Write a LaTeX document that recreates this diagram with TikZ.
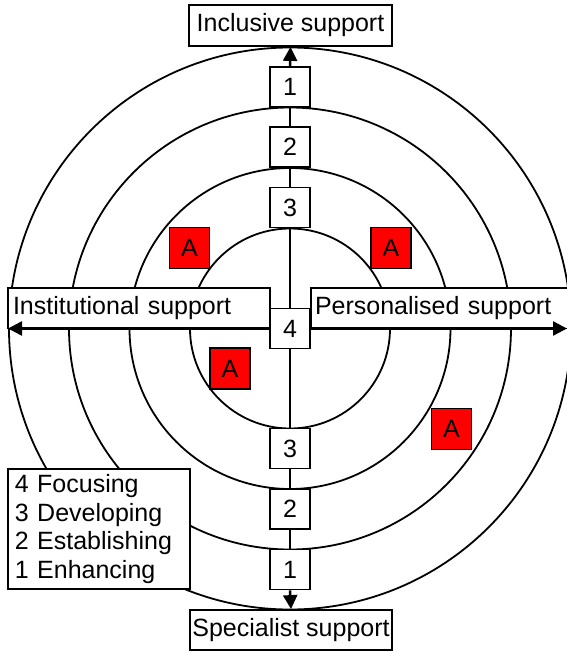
\documentclass[tikz,border=0pt]{standalone}
\usepackage{fontspec}
\setmainfont{Liberation Sans}
\usetikzlibrary{arrows.meta}
\begin{document}
\begin{tikzpicture}[x=1pt,y=-1pt,
  font=\fontsize{25}{28.5}\selectfont,
  ring/.style={draw, line width=1.8pt},
  numbox/.style={draw, fill=white, line width=1.8pt, minimum width=40pt, minimum height=40pt, inner sep=0pt},
  labbox/.style={draw, fill=white, line width=1.8pt, inner sep=0pt},
  abox/.style={draw, fill=red, line width=1.8pt, minimum width=40pt, minimum height=41pt, inner sep=0pt},
  axis/.style={line width=2.5pt},
  arr/.style={axis, -{Triangle[length=14pt,width=14pt]}}]
\useasboundingbox (0,0) rectangle (567,651);
\coordinate (C) at (290,328.5);
% rings
\draw[ring] (C) circle[radius=281pt];
\draw[ring] (C) circle[radius=221pt];
\draw[ring] (C) circle[radius=160.5pt];
\draw[ring] (C) circle[radius=100pt];
% axis labels
\node[labbox, minimum width=203pt, minimum height=41pt] (inc) at (290.5,25.5) {Inclusive support};
\node[labbox, minimum width=202pt, minimum height=40pt] (spec) at (291,630) {Specialist support};
\node[labbox, minimum width=262pt, minimum height=40.5pt, text width=252pt, align=left, inner xsep=5pt] (inst) at (139,308.25) {Institutional support};
\node[labbox, minimum width=270pt, minimum height=40.5pt, text width=262pt, align=left, inner xsep=4pt] (pers) at (446,308.25) {Personalised support};
% level boxes
\node[numbox] (u1) at (290,87) {1};
\node[numbox] (u2) at (290,147) {2};
\node[numbox] (u3) at (290,207.5) {3};
\node[numbox] (c4) at (290,328.5) {4};
\node[numbox] (d3) at (290,448.5) {3};
\node[numbox] (d2) at (290,509) {2};
\node[numbox] (d1) at (290,569.5) {1};
% A boxes
\node[abox] (a1) at (189.5,248) {A};
\node[abox] (a2) at (391,248) {A};
\node[abox] (a3) at (230,368.5) {A};
\node[abox] (a4) at (451.5,429) {A};
% legend
\node[labbox, minimum width=182pt, minimum height=120pt, text width=168pt, align=left, inner xsep=7pt] (leg) at (99,529)
  {4 Focusing\\3 Developing\\2 Establishing\\1 Enhancing};
% axes
\coordinate (lt) at (8,328.5);
\coordinate (rt) at (567,328.5);
\draw[axis] (u1) -- (u2);
\draw[axis] (u2) -- (u3);
\draw[axis] (u3) -- (c4);
\draw[axis] (c4) -- (d3);
\draw[axis] (d3) -- (d2);
\draw[axis] (d2) -- (d1);
\draw[arr] (u1.north) -- (inc.south);
\draw[arr] (d1.south) -- (spec.north);
\draw[arr] (c4.west) -- (lt);
\draw[arr] (c4.east) -- (rt);
\end{tikzpicture}
\end{document}
